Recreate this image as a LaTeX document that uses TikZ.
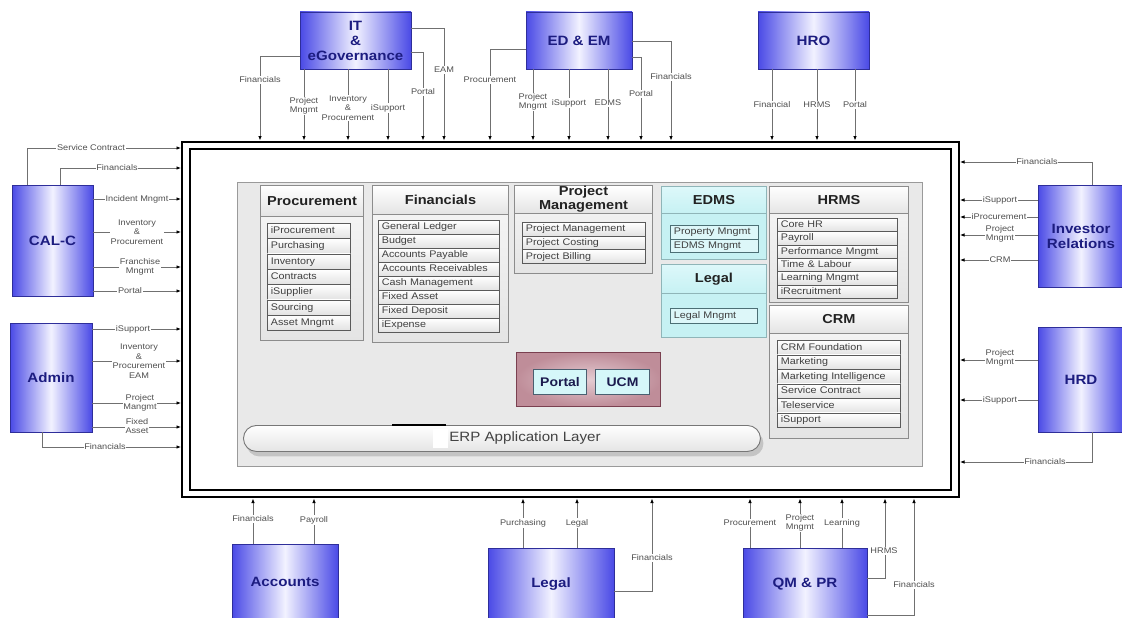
\documentclass[tikz,border=0pt]{standalone}
\usepackage{fontspec}
\setmainfont{Liberation Sans}[FakeStretch=1.12]
\usetikzlibrary{arrows.meta,shadows}
\definecolor{extblue}{HTML}{4A4AE6}
\definecolor{extmid}{HTML}{F2F2FF}
\definecolor{extb}{HTML}{2E2E9A}
\definecolor{navy}{HTML}{1C1C80}
\definecolor{connc}{HTML}{707070}
\definecolor{labc}{HTML}{505050}
\definecolor{panelc}{HTML}{E9E9E9}
\definecolor{panelb}{HTML}{9A9A9A}
\definecolor{boxb}{HTML}{8C8C8C}
\definecolor{boxtop}{HTML}{F7F7F7}
\definecolor{boxbot}{HTML}{E4E4E4}
\definecolor{itemb}{HTML}{5A5A5A}
\definecolor{itembot}{HTML}{E2E2E2}
\definecolor{cyanf}{HTML}{C6F1F3}
\definecolor{cyantop}{HTML}{DDF8FA}
\definecolor{cyanb}{HTML}{8FB5B8}
\definecolor{cyanitem}{HTML}{DDF7F9}
\definecolor{cyanib}{HTML}{4C6F75}
\definecolor{mauvein}{HTML}{E4CCD2}
\definecolor{mauveout}{HTML}{BF8D99}
\definecolor{mauveb}{HTML}{7A4050}
\definecolor{pubox}{HTML}{D5F7F9}
\definecolor{puboxb}{HTML}{4A5F70}
\definecolor{textd}{HTML}{222222}
\definecolor{texti}{HTML}{404040}
\definecolor{erpb}{HTML}{777777}
\definecolor{shadowc}{HTML}{A0A0A0}

\newcommand\mkitems[8]{%
  \foreach \itm [count=\i] in {#8}
    \node[#7, minimum width=#4pt, text width=#5pt, minimum height=#6pt, anchor=north west]
      (#1\i) at (#2,{#3+#6*(\i-1)}) {\itm};}

\begin{document}
\begin{tikzpicture}[x=1pt,y=-1pt,
  ext/.style={draw=extb, line width=0.6pt, left color=extblue, right color=extblue, middle color=extmid,
    text=navy, font=\fontsize{13.5}{15}\selectfont\bfseries, align=center, inner sep=0pt},
  frm/.style={draw=black, double=white, double distance=5.5pt, line width=2.2pt, inner sep=0pt, outer sep=5pt, fill=white},
  conn/.style={draw=connc, line width=0.8pt, -{Latex[length=4.5pt,width=3.6pt,color=black]}},
  lab/.style={fill=white, text=labc, font=\fontsize{8.2}{9.5}\selectfont, inner sep=0.8pt, align=center},
  panel/.style={draw=panelb, line width=1.2pt, fill=panelc, inner sep=0pt},
  modbox/.style={draw=boxb, line width=1pt, top color=boxtop, bottom color=boxbot, inner sep=0pt},
  modhead/.style={draw=boxb, line width=1pt, top color=white, bottom color=boxbot, text=textd,
    font=\fontsize{13}{14}\selectfont\bfseries, align=center, inner sep=0pt},
  cbox/.style={draw=cyanb, line width=1pt, fill=cyanf, inner sep=0pt},
  chead/.style={draw=cyanb, line width=1pt, top color=cyantop, bottom color=cyanf, text=textd,
    font=\fontsize{13}{14}\selectfont\bfseries, align=center, inner sep=0pt},
  item/.style={draw=itemb, line width=0.7pt, top color=white, bottom color=itembot, text=texti,
    font=\fontsize{9.6}{10}\selectfont, align=left, inner xsep=3.5pt, inner ysep=0pt, text height=7pt, text depth=2pt},
  citem/.style={draw=cyanib, line width=0.7pt, fill=cyanitem, text=texti,
    font=\fontsize{9.6}{10}\selectfont, align=left, inner xsep=3.5pt, inner ysep=0pt, text height=7pt, text depth=2pt},
  mauvebox/.style={draw=mauveb, line width=1pt, inner color=mauvein, outer color=mauveout, inner sep=0pt},
  pubx/.style={draw=puboxb, line width=1pt, fill=pubox, text=textd!80!blue,
    font=\fontsize{12.5}{14}\selectfont\bfseries, inner sep=0pt},
  erp/.style={draw=erpb, line width=0.9pt, rounded corners=13pt, top color=white, bottom color=boxbot,
    drop shadow={shadow xshift=3pt, shadow yshift=-5pt, fill=shadowc}, inner sep=0pt},
  erptext/.style={text=textd!85, font=\fontsize{13.5}{15}\selectfont, inner sep=0pt}
]
\useasboundingbox (0,0) rectangle (1122,618);

% ---------- central frame and panel ----------
\node[frm, minimum width=769pt, minimum height=348pt] (frame) at (570.5,319.5) {};
\node[panel, minimum width=685pt, minimum height=284pt, anchor=north west] (panel) at (237,182) {};

% Procurement
\node[modbox, minimum width=103pt, minimum height=155pt, anchor=north west] (procbox) at (260,185) {};
\node[modhead, minimum width=103pt, minimum height=31pt, anchor=north west] (prochead) at (260,185) {Procurement};
\mkitems{proc}{267}{223}{83}{76}{15.3}{item}{iProcurement,Purchasing,Inventory,Contracts,iSupplier,Sourcing,Asset Mngmt}

% Financials
\node[modbox, minimum width=136pt, minimum height=157pt, anchor=north west] (finbox) at (372,185) {};
\node[modhead, minimum width=136pt, minimum height=29pt, anchor=north west] (finhead) at (372,185) {Financials};
\mkitems{fin}{378}{220}{121}{114}{14}{item}{General Ledger,Budget,Accounts Payable,Accounts Receivables,Cash Management,Fixed Asset,Fixed Deposit,iExpense}

% Project Management
\node[modbox, minimum width=138pt, minimum height=88pt, anchor=north west] (pmbox) at (514,185) {};
\node[modhead, minimum width=138pt, minimum height=28pt, anchor=north west] (pmhead) at (514,185) {Project\\Management};
\mkitems{pm}{522}{222}{123}{116}{13.7}{item}{Project Management,Project Costing,Project Billing}

% EDMS
\node[cbox, minimum width=105pt, minimum height=73pt, anchor=north west] (edmsbox) at (661,186) {};
\node[chead, minimum width=105pt, minimum height=27pt, anchor=north west] (edmshead) at (661,186) {EDMS};
\mkitems{edms}{670}{225}{88}{81}{13.5}{citem}{Property Mngmt,EDMS Mngmt}

% Legal (inner)
\node[cbox, minimum width=105pt, minimum height=73pt, anchor=north west] (legbox) at (661,264) {};
\node[chead, minimum width=105pt, minimum height=29pt, anchor=north west] (leghead) at (661,264) {Legal};
\mkitems{leg}{670}{308}{87}{80}{15}{citem}{Legal Mngmt}

% HRMS
\node[modbox, minimum width=139pt, minimum height=116pt, anchor=north west] (hrmsbox) at (769,186) {};
\node[modhead, minimum width=139pt, minimum height=27pt, anchor=north west] (hrmshead) at (769,186) {HRMS};
\mkitems{hrms}{777}{218}{120}{113}{13.33}{item}{Core HR,Payroll,Performance Mngmt,Time \& Labour,Learning Mngmt,iRecruitment}

% CRM
\node[modbox, minimum width=139pt, minimum height=133pt, anchor=north west] (crmbox) at (769,305) {};
\node[modhead, minimum width=139pt, minimum height=28pt, anchor=north west] (crmhead) at (769,305) {CRM};
\mkitems{crm}{777}{340}{123}{116}{14.5}{item}{CRM Foundation,Marketing,Marketing Intelligence,Service Contract,Teleservice,iSupport}

% Portal / UCM
\node[mauvebox, minimum width=144pt, minimum height=54pt, anchor=north west] (pu) at (516,352) {};
\node[pubx, minimum width=53pt, minimum height=25pt, anchor=north west] (portal) at (533,369) {Portal};
\node[pubx, minimum width=54pt, minimum height=25pt, anchor=north west] (ucm) at (595,369) {UCM};

% ERP application layer
\node[erp, minimum width=517pt, minimum height=26pt, anchor=north west] (erp) at (243,425) {};
\draw[black, line width=1.3pt] (392,425) -- (446,425);
\fill[white] (433,429) rectangle (448,448);
\node[erptext] (erpt) at (525,438) {ERP Application Layer};

% ---------- external units ----------
\node[ext, minimum width=111pt, minimum height=57pt] (itg) at (355.5,40.5) {IT\\\&\\eGovernance};
\node[ext, minimum width=106pt, minimum height=57pt] (edem) at (579,40.5) {ED \& EM};
\node[ext, minimum width=111pt, minimum height=57pt] (hro) at (813.5,40.5) {HRO};
\node[ext, minimum width=81pt, minimum height=111pt] (calc) at (52.5,240.5) {CAL-C};
\node[ext, minimum width=82pt, minimum height=109pt] (admin) at (51,377.5) {Admin};
\node[ext, minimum width=86pt, minimum height=102pt] (ir) at (1081,236) {Investor\\Relations};
\node[ext, minimum width=86pt, minimum height=105pt] (hrd) at (1081,379.5) {HRD};
\node[ext, minimum width=106pt, minimum height=76pt] (acc) at (285,582) {Accounts};
\node[ext, minimum width=126pt, minimum height=72pt] (legalb) at (551,584) {Legal};
\node[ext, minimum width=124pt, minimum height=72pt] (qm) at (805,584) {QM \& PR};

% ---------- connectors ----------
% IT & eGovernance
\draw[conn] (itg.west |- 0,56) -| (frame.north -| 260,0);
\draw[conn] (itg.south -| 304,0) -- (frame.north -| 304,0);
\draw[conn] (itg.south -| 348,0) -- (frame.north -| 348,0);
\draw[conn] (itg.south -| 388,0) -- (frame.north -| 388,0);
\draw[conn] (itg.east |- 0,52) -| (frame.north -| 423,0);
\draw[conn] (itg.east |- 0,28) -| (frame.north -| 444,0);
% ED & EM
\draw[conn] (edem.west |- 0,49) -| (frame.north -| 490,0);
\draw[conn] (edem.south -| 533,0) -- (frame.north -| 533,0);
\draw[conn] (edem.south -| 569,0) -- (frame.north -| 569,0);
\draw[conn] (edem.south -| 608,0) -- (frame.north -| 608,0);
\draw[conn] (edem.east |- 0,57) -| (frame.north -| 641,0);
\draw[conn] (edem.east |- 0,41) -| (frame.north -| 671,0);
% HRO
\draw[conn] (hro.south -| 772,0) -- (frame.north -| 772,0);
\draw[conn] (hro.south -| 817,0) -- (frame.north -| 817,0);
\draw[conn] (hro.south -| 855,0) -- (frame.north -| 855,0);
% CAL-C
\draw[conn] (calc.north -| 27,0) |- (frame.west |- 0,148);
\draw[conn] (calc.north -| 60,0) |- (frame.west |- 0,168);
\draw[conn] (calc.east |- 0,199) -- (frame.west |- 0,199);
\draw[conn] (calc.east |- 0,232) -- (frame.west |- 0,232);
\draw[conn] (calc.east |- 0,267) -- (frame.west |- 0,267);
\draw[conn] (calc.east |- 0,291) -- (frame.west |- 0,291);
% Admin
\draw[conn] (admin.east |- 0,329) -- (frame.west |- 0,329);
\draw[conn] (admin.east |- 0,361) -- (frame.west |- 0,361);
\draw[conn] (admin.east |- 0,403) -- (frame.west |- 0,403);
\draw[conn] (admin.east |- 0,427) -- (frame.west |- 0,427);
\draw[conn] (admin.south -| 42,0) |- (frame.west |- 0,447);
% Investor Relations
\draw[conn] (ir.north -| 1092,0) |- (frame.east |- 0,162);
\draw[conn] (ir.west |- 0,200) -- (frame.east |- 0,200);
\draw[conn] (ir.west |- 0,217) -- (frame.east |- 0,217);
\draw[conn] (ir.west |- 0,235) -- (frame.east |- 0,235);
\draw[conn] (ir.west |- 0,260) -- (frame.east |- 0,260);
% HRD
\draw[conn] (hrd.west |- 0,360) -- (frame.east |- 0,360);
\draw[conn] (hrd.west |- 0,400) -- (frame.east |- 0,400);
\draw[conn] (hrd.south -| 1092,0) |- (frame.east |- 0,462);
% Accounts
\draw[conn] (acc.north -| 253,0) -- (frame.south -| 253,0);
\draw[conn] (acc.north -| 314,0) -- (frame.south -| 314,0);
% Legal
\draw[conn] (legalb.north -| 523,0) -- (frame.south -| 523,0);
\draw[conn] (legalb.north -| 577,0) -- (frame.south -| 577,0);
\draw[conn] (legalb.east |- 0,591) -| (frame.south -| 652,0);
% QM & PR
\draw[conn] (qm.north -| 750,0) -- (frame.south -| 750,0);
\draw[conn] (qm.north -| 800,0) -- (frame.south -| 800,0);
\draw[conn] (qm.north -| 842,0) -- (frame.south -| 842,0);
\draw[conn] (qm.east |- 0,578) -| (frame.south -| 885,0);
\draw[conn] (qm.east |- 0,615) -| (frame.south -| 914,0);

% ---------- connector labels ----------
\node[lab] (lt1) at (260,80) {Financials};
\node[lab] (lt2) at (304,106) {Project\\Mngmt};
\node[lab] (lt3) at (348,108) {Inventory\\\&\\Procurement};
\node[lab] (lt4) at (388,108) {iSupport};
\node[lab] (lt5) at (423,92) {Portal};
\node[lab] (lt6) at (444,70) {EAM};
\node[lab] (lt7) at (490,80) {Procurement};
\node[lab] (lt8) at (533,102) {Project\\Mngmt};
\node[lab] (lt9) at (569,103) {iSupport};
\node[lab] (lt10) at (608,103) {EDMS};
\node[lab] (lt11) at (641,94) {Portal};
\node[lab] (lt12) at (671,77) {Financials};
\node[lab] (lt13) at (772,105) {Financial};
\node[lab] (lt14) at (817,105) {HRMS};
\node[lab] (lt15) at (855,105) {Portal};

\node[lab] (ll1) at (91,148) {Service Contract};
\node[lab] (ll2) at (117,168) {Financials};
\node[lab] (ll3) at (137,199) {Incident Mngmt};
\node[lab] (ll4) at (137,232) {Inventory\\\&\\Procurement};
\node[lab] (ll5) at (140,267) {Franchise\\Mngmt};
\node[lab] (ll6) at (130,291) {Portal};
\node[lab] (ll7) at (133,329) {iSupport};
\node[lab] (ll8) at (139,361) {Inventory\\\&\\Procurement\\EAM};
\node[lab] (ll9) at (140,403) {Project\\Mangmt};
\node[lab] (ll10) at (137,426) {Fixed\\Asset};
\node[lab] (ll11) at (105,447) {Financials};

\node[lab] (lr1) at (1037,162) {Financials};
\node[lab] (lr2) at (1000,200) {iSupport};
\node[lab] (lr3) at (999,217) {iProcurement};
\node[lab] (lr4) at (1000,234) {Project\\Mngmt};
\node[lab] (lr5) at (1000,260) {CRM};
\node[lab] (lr6) at (1000,358) {Project\\Mngmt};
\node[lab] (lr7) at (1000,400) {iSupport};
\node[lab] (lr8) at (1045,462) {Financials};

\node[lab] (lb1) at (253,519) {Financials};
\node[lab] (lb2) at (314,520) {Payroll};
\node[lab] (lb3) at (523,523) {Purchasing};
\node[lab] (lb4) at (577,523) {Legal};
\node[lab] (lb5) at (652,558) {Financials};
\node[lab] (lb6) at (750,523) {Procurement};
\node[lab] (lb7) at (800,523) {Project\\Mngmt};
\node[lab] (lb8) at (842,523) {Learning};
\node[lab] (lb9) at (884,551) {HRMS};
\node[lab] (lb10) at (914,585) {Financials};
\end{tikzpicture}
\end{document}
